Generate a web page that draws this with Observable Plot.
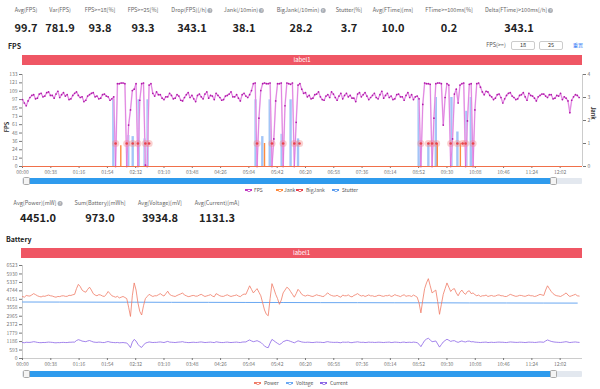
<!DOCTYPE html>
<html><head><meta charset="utf-8">
<script src="https://cdn.jsdelivr.net/npm/d3@7"></script>
<script src="https://cdn.jsdelivr.net/npm/@observablehq/plot@0.6"></script>
<style>
body{margin:0;background:#fff;font-family:"Noto Sans CJK SC","Noto Sans",sans-serif;}
#root{position:relative;width:600px;height:389px;overflow:hidden;background:#fff;}
.abs{position:absolute;white-space:nowrap;}
.slab{font-size:5.5px;line-height:8px;color:#666;transform:translateX(-50%);}
.sval{font-size:11px;line-height:12px;font-weight:bold;color:#222;transform:translateX(-50%);}
.q{display:inline-block;width:5px;height:5px;border-radius:50%;background:#a8adb5;color:#fff;font-size:4px;line-height:5px;text-align:center;margin-left:1px;vertical-align:middle;}
.title{font-size:7px;font-weight:bold;color:#222;line-height:8px;}
.band{background:#ef5664;color:#fff;font-size:6px;text-align:center;}
.inp{border:1px solid #ccc;border-radius:2px;font-size:5.5px;color:#333;text-align:center;box-sizing:border-box;}
.track{background:#e3e8ef;border-radius:1px;}
.fill{background:#2f9bed;}
.handle{background:#f4f4f4;border:1px solid #aaa;border-radius:1.5px;box-sizing:border-box;}
.leg{font-size:5px;color:#555;line-height:8px;}
.legline{height:1.2px;}
</style></head>
<body><div id="root"></div>
<script>
// ---------- data ----------
const topLabels = ["Avg(FPS)","Var(FPS)","FPS>=18[%]","FPS>=25[%]","Drop(FPS)[/h]","Jank(/10min)","BigJank(/10min)","Stutter[%]","Avg(FTime)[ms]","FTime>=100ms[%]","Delta(FTime)>100ms[/h]"];
const topValues = ["99.7","781.9","93.8","93.3","343.1","38.1","28.2","3.7","10.0","0.2","343.1"];
const topInfo = [false,false,false,false,true,true,true,false,false,false,true];
const batLabels = ["Avg(Power)[mW]","Sum(Battery)[mWh]","Avg(Voltage)[mV]","Avg(Current)[mA]"];
const batValues = ["4451.0","973.0","3934.8","1131.3"];
const batInfo = [true,false,false,false];
const timeLabels = ["00:00","00:38","01:16","01:54","02:32","03:10","03:48","04:26","05:04","05:42","06:20","06:58","07:36","08:14","08:52","09:30","10:08","10:46","11:24","12:02"];
const fpsTickLabels = [0,12,24,36,48,61,73,85,97,109,121,133];
const jankTickLabels = [0,1,2,3,4];
const batTickLabels = [0,593,1186,1779,2372,2965,3558,4151,4744,5337,5930,6523];
const sampleStep = 2.5; // seconds between samples
const fps = [97,92,88,95,100,103,104,98,99,105,106,101,102,107,108,103,103,99,105,109,100,104,107,102,104,97,98,103,106,108,103,100,101,94,96,102,104,106,107,101,102,98,99,104,105,102,101,96,98,101,
 0,120,120,121,121,120,0,60,82,110,112,120,0,96,120,121,2,0,118,120,
 106,102,108,104,104,99,97,101,101,106,103,98,99,104,102,96,95,100,104,107,100,103,98,94,103,105,101,98,105,108,99,103,102,97,106,103,100,96,97,102,103,105,108,101,101,104,99,95,104,106,102,100,
 104,110,120,121,0,70,110,120,121,120,120,121,0,40,95,120,120,121,0,88,121,120,119,121,0,64,118,120,112,106,
 107,101,103,98,99,104,105,108,101,97,96,102,104,100,108,105,100,96,102,106,98,103,106,101,103,99,99,94,105,107,101,104,107,102,97,100,103,106,100,98,104,109,99,103,106,100,102,97,98,104,105,101,101,96,103,107,100,104,97,101,
 102,98,0,90,121,120,120,119,0,70,120,121,121,120,60,100,120,118,0,40,105,112,92,118,120,121,0,66,119,120,0,82,120,121,115,108,
 104,109,108,103,101,97,99,104,105,100,92,98,103,106,107,102,100,97,98,103,104,107,101,96,106,103,102,99,95,101,103,105,105,102,100,104,104,98,99,103,102,106,97,101,99,95,78,96,101,104,103,100];
const stutterTime = [122,142,148,156,164,168, 313,322,332,348,360,370, 532,545,555,576,584,596,602];
const stutterVal  = [2.9,1.35,1.3,2.9,1.2,2.9, 2.9,1.3,2.9,1.4,2.9,1.2, 2.95,1.0,3.0,3.0,1.5,2.4,3.0];
const jankTime = [132,325,557,588];
const jankVal = [0.9,1,1,1];
const bigJankTime = [125,140,148,155,165,170, 315,335,350,365,372, 535,545,550,556,575,584,591,595,605];
const power = [4350,4300,4420,4390,4380,4460,4550,4480,4400,4350,4320,4380,4360,4410,4450,4400,4380,4330,4300,4350,4340,4390,4400,4360,4360,4430,4420,4470,
 4500,4900,5200,5050,4800,4700,4650,4850,5000,4800,4550,4450,4400,4480,4450,4380,4350,4500,4700,4550,4400,4350,
 4300,4360,4250,4300,4350,4280,4200,3600,2950,4400,5300,4800,3900,3300,3050,3700,4200,4350,4500,4420,4350,4400,
 4400,4470,4550,4450,4380,4550,4720,4500,4420,4380,4350,4420,4480,4530,4600,4450,4400,4340,4360,4410,4420,4370,4380,4450,4500,4420,4350,4390,4430,4480,4380,4330,4550,4480,4400,4360,4360,4420,4470,4400,4350,4390,4420,4460,4380,4340,4450,4520,
 4500,4800,5100,4850,4600,4750,4900,4650,4400,3900,3400,3100,3000,4200,5250,4900,4500,4200,3800,4100,4600,4800,5000,4900,4700,4500,4300,4550,4850,4700,4500,4420,
 4380,4440,4420,4370,4350,4410,4470,4420,4400,4350,4360,4500,4600,4480,4420,4380,4380,4430,4350,4300,4450,4400,4400,4460,4360,4320,4420,4480,4550,4450,4380,4420,4350,4400,4460,4390,4400,4350,4370,4430,4430,4380,4360,4410,4400,4450,4350,4390,4480,4420,4390,4340,4420,4470,4360,4400,4400,4350,4450,4380,
 4300,3900,3200,4100,4900,5300,5600,5100,4600,4700,4800,4000,3100,3800,4500,4900,5300,5000,4700,4850,4900,4600,4400,4650,4800,4600,4500,4700,4750,4550,4600,4480,4400,4450,4350,4400,
 4400,4450,4350,4390,4420,4370,4380,4440,4460,4400,4400,4350,4350,4420,4500,4450,4400,4360,4380,4430,4420,4380,4360,4410,4450,4400,4400,4350,4380,4440,4500,4460,4420,4800,5100,4900,4700,4550,4450,4400,4380,4350,4420,4500,4600,4450,4350,4400,4450,4500,4400,4380];
const current = [1120,1105,1140,1130,1130,1150,1180,1160,1130,1115,1110,1125,1120,1135,1150,1140,1130,1110,1100,1115,1110,1125,1130,1120,1120,1140,1140,1150,
 1150,1260,1320,1280,1220,1200,1180,1230,1260,1210,1160,1140,1130,1150,1140,1120,1120,1160,1190,1150,1130,1120,
 1110,1125,1100,1110,1120,1100,1090,950,760,1150,1340,1220,1000,850,780,940,1080,1120,1160,1140,1120,1130,
 1130,1150,1160,1140,1120,1160,1200,1150,1140,1130,1120,1140,1150,1160,1180,1140,1130,1115,1120,1135,1140,1125,1130,1150,1160,1140,1120,1130,1140,1150,1130,1115,1170,1150,1130,1120,1120,1140,1150,1130,1120,1130,1140,1150,1130,1120,1150,1160,
 1160,1240,1300,1230,1180,1210,1250,1190,1130,1000,880,790,760,1080,1340,1250,1150,1060,980,1050,1180,1230,1280,1250,1200,1150,1100,1170,1240,1200,1160,1140,
 1130,1145,1140,1125,1120,1135,1150,1140,1140,1125,1120,1160,1180,1150,1140,1130,1130,1140,1120,1105,1150,1140,1140,1155,1120,1110,1140,1150,1170,1145,1130,1140,1120,1130,1150,1135,1140,1125,1130,1145,1140,1130,1120,1135,1140,1150,1120,1130,1150,1140,1130,1115,1140,1150,1120,1135,1140,1125,1150,1135,
 1110,1000,830,1050,1260,1360,1420,1300,1180,1200,1230,1020,800,980,1160,1260,1350,1280,1200,1240,1250,1180,1130,1190,1230,1180,1160,1210,1220,1170,1180,1150,1140,1130,1120,1135,
 1140,1150,1120,1130,1140,1125,1130,1145,1150,1140,1140,1125,1120,1140,1160,1150,1140,1130,1130,1145,1140,1130,1120,1135,1150,1140,1140,1125,1130,1150,1160,1150,1140,1230,1300,1250,1200,1170,1150,1140,1130,1125,1140,1160,1180,1150,1120,1135,1150,1160,1140,1130];
const voltageTime = [0,50,100,150,200,250,300,350,400,450,500,550,600,650,700,745];
const voltage = [3962,3958,3951,3949,3940,3938,3931,3927,3919,3916,3909,3906,3898,3894,3889,3886];

// ---------- layout (not data) ----------
const topCenters = [26,60,100,143,192,244,301,349,393,449,519];
const batCenters = [38,100,160,217];
const FONT = '"Noto Sans CJK SC","Noto Sans",sans-serif';
const root = document.getElementById("root");
function el(cls, css, html){const d=document.createElement("div");d.className="abs "+cls;Object.assign(d.style,css);if(html!=null)d.innerHTML=html;root.appendChild(d);return d;}

topLabels.forEach((l,i)=>{
  el("slab",{left:topCenters[i]+"px",top:"6px"}).textContent=l;
  if(topInfo[i]) root.lastChild.insertAdjacentHTML("beforeend",'<span class="q">?</span>');
  el("sval",{left:topCenters[i]+"px",top:"21px"}).textContent=topValues[i];
});
batLabels.forEach((l,i)=>{
  el("slab",{left:batCenters[i]+"px",top:"199px"}).textContent=l;
  if(batInfo[i]) root.lastChild.insertAdjacentHTML("beforeend",'<span class="q">?</span>');
  el("sval",{left:batCenters[i]+"px",top:"211px"}).textContent=batValues[i];
});
el("title",{left:"8px",top:"42px"}).textContent="FPS";
el("title",{left:"6px",top:"235px"}).textContent="Battery";
el("slab",{left:"496px",top:"41px",color:"#555"}).textContent="FPS(>=)";
el("inp",{left:"511px",top:"41px",width:"24px",height:"9px",lineHeight:"7px"}).textContent="18";
el("inp",{left:"539px",top:"41px",width:"24px",height:"9px",lineHeight:"7px"}).textContent="25";
el("",{left:"573px",top:"41px",fontSize:"5px",lineHeight:"8px",color:"#3b82f6"}).textContent="重置";
el("band",{left:"22px",top:"55px",width:"560px",height:"10px",lineHeight:"10px"}).textContent="label1";
el("band",{left:"21px",top:"248px",width:"561px",height:"10px",lineHeight:"10px"}).textContent="label1";

function slider(y,a,b){
  el("track",{left:"22px",top:y+"px",width:"560px",height:"6px"});
  el("fill",{left:a+"px",top:y+"px",width:(b-a)+"px",height:"6px"});
  el("handle",{left:(a-6)+"px",top:(y-1)+"px",width:"7px",height:"8px"});
  el("handle",{left:(b-1)+"px",top:(y-1)+"px",width:"7px",height:"8px"});
}
slider(178,29,551);
slider(371,29,551);

function legend(items,y){
  items.forEach(([name,color,x,tx])=>{
    el("legline",{left:x+"px",top:(y-0.6)+"px",width:"7px",background:color});
    el("",{left:(x+2.2)+"px",top:(y-1.3)+"px",width:"1.4px",height:"1.4px",borderRadius:"50%",background:"#fff",border:"0.6px solid "+color});
    el("leg",{left:tx+"px",top:(y-4)+"px"}).textContent=name;
  });
}
legend([["FPS","#c23bc2",245,254],["Jank","#ff8a3d",276,284],["BigJank","#e8434b",296,306],["Stutter","#5b9cf0",332,342]],190);
legend([["Power","#f07b66",254,264],["Voltage","#6aa8f2",286,296],["Current","#8a63e6",320,330]],383);

// ---------- charts ----------
const toSec = s => {const [m,ss]=s.split(":").map(Number);return m*60+ss;};
const tickSecs = timeLabels.map(toSec);
const fmtTime = s => timeLabels[tickSecs.indexOf(s)];
const XMAX = 752;
const FPSMAX = 133.3;
const K = FPSMAX/4;
const fpsData = fps.map((v,i)=>({t:i*sampleStep,v}));
const stutter = stutterTime.map((t,i)=>({t,v:stutterVal[i]*K}));
const jank = jankTime.map((t,i)=>({t,v:jankVal[i]*K}));
const bigJank = bigJankTime.map(t=>({t,v:K}));
const ax = {tickSize:2,tickPadding:2,label:null};

const fpsPlot = Plot.plot({
  width:600,height:116,marginLeft:22,marginRight:18,marginTop:10,marginBottom:14,
  x:{domain:[0,XMAX],axis:null},
  y:{domain:[0,FPSMAX],axis:null},
  style:{fontSize:"5px",fontFamily:FONT,color:"#777",background:"transparent",overflow:"visible"},
  marks:[
    Plot.ruleX([0,XMAX],{stroke:"#ccc"}),
    Plot.axisY({...ax,ticks:fpsTickLabels.map((_,i)=>i*FPSMAX/11),tickFormat:(d)=>Math.round(d),tickSize:3}),
    Plot.axisY({...ax,anchor:"right",ticks:jankTickLabels.map(v=>v*K),tickFormat:d=>Math.round(d/K),tickSize:3}),
    Plot.axisX({...ax,ticks:tickSecs,tickFormat:fmtTime}),
    Plot.ruleX(stutter,{x:"t",y1:0,y2:"v",stroke:"#7cadf3",strokeWidth:2.4,strokeOpacity:0.7}),
    Plot.ruleX(jank,{x:"t",y1:0,y2:"v",stroke:"#ff8a3d",strokeWidth:1.4}),
    Plot.line(fpsData,{x:"t",y:"v",stroke:"#f2c4f2",strokeWidth:1.6}),
    Plot.line(fpsData,{x:"t",y:"v",stroke:"#d35ad3",strokeWidth:0.6}),
    Plot.dot(fpsData,{x:"t",y:"v",r:0.85,fill:"#b01aa8"}),
    Plot.dot(bigJank,{x:"t",y:"v",r:3.6,fill:"#f28a8a",fillOpacity:0.4}),
    Plot.dot(bigJank,{x:"t",y:"v",r:1.3,fill:"#e8434b"}),
    Plot.ruleY([0],{stroke:"#f0704a",strokeWidth:1.1})
  ]
});
fpsPlot.style.position="absolute";fpsPlot.style.left="0px";fpsPlot.style.top="64px";
root.appendChild(fpsPlot);
el("",{left:"2px",top:"124px",fontSize:"5.5px",fontWeight:"bold",color:"#333",transform:"rotate(-90deg)",lineHeight:"6px"}).textContent="FPS";
el("",{left:"586px",top:"110px",fontSize:"5.5px",fontWeight:"bold",color:"#333",transform:"rotate(90deg)",lineHeight:"6px"}).textContent="Jank";

const BMAX = 6523;
const powData = power.map((v,i)=>({t:i*sampleStep,v}));
const curData = current.map((v,i)=>({t:i*sampleStep,v}));
const volData = voltage.map((v,i)=>({t:voltageTime[i],v}));
const batPlot = Plot.plot({
  width:600,height:117,marginLeft:22,marginRight:18,marginTop:10,marginBottom:14,
  x:{domain:[0,XMAX],axis:null},
  y:{domain:[0,BMAX],axis:null},
  style:{fontSize:"5px",fontFamily:FONT,color:"#777",background:"transparent",overflow:"visible"},
  marks:[
    Plot.ruleX([0],{stroke:"#ccc"}),
    Plot.ruleY([0],{stroke:"#ccc"}),
    Plot.axisY({...ax,ticks:batTickLabels,tickFormat:d=>String(d),tickSize:3}),
    Plot.axisX({...ax,ticks:tickSecs,tickFormat:fmtTime}),
    Plot.line(volData,{x:"t",y:"v",stroke:"#6aa8f2",strokeWidth:1}),
    Plot.line(powData,{x:"t",y:"v",stroke:"#f07b66",strokeWidth:0.8}),
    Plot.line(curData,{x:"t",y:"v",stroke:"#8a63e6",strokeWidth:0.8})
  ]
});
batPlot.style.position="absolute";batPlot.style.left="0px";batPlot.style.top="255px";
root.appendChild(batPlot);
</script></body></html>
